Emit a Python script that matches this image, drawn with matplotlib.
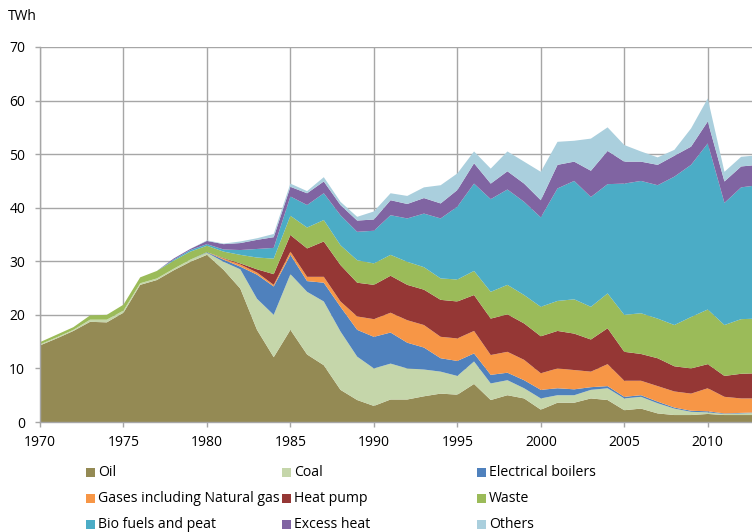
import matplotlib
matplotlib.use("Agg")
import matplotlib.pyplot as plt
from matplotlib.patches import Rectangle

years = list(range(1970, 2014))

oil = [14.3, 15.6, 17.0, 18.7, 18.6, 20.4, 25.6, 26.5, 28.3, 29.9,
       31.2, 28.4, 24.9, 17.2, 12.1, 17.2, 12.6, 10.6, 6.0, 4.1,
       3.0, 4.2, 4.2, 4.8, 5.3, 5.1, 7.1, 4.1, 5.0, 4.4,
       2.3, 3.6, 3.6, 4.4, 4.1, 2.2, 2.5, 1.6, 1.3, 1.3,
       1.5, 1.3, 1.3, 1.3]
coal = [0.2, 0.2, 0.2, 0.4, 0.5, 0.4, 0.3, 0.3, 0.3, 0.4,
        0.4, 1.5, 3.6, 5.8, 7.9, 10.4, 11.7, 11.9, 10.9, 8.1,
        7.0, 6.7, 5.8, 5.0, 4.1, 3.5, 4.2, 3.1, 2.8, 1.9,
        2.1, 1.4, 1.4, 1.6, 2.2, 2.2, 2.2, 1.9, 1.2, 0.6,
        0.3, 0.2, 0.3, 0.4]
elec = [0, 0, 0, 0, 0, 0, 0, 0, 0, 0,
        0.1, 0.4, 0.5, 4.5, 5.3, 3.6, 2.0, 3.5, 4.6, 5.0,
        5.9, 5.8, 4.8, 4.1, 2.5, 2.8, 1.5, 1.6, 1.4, 1.5,
        1.6, 1.3, 1.1, 0.5, 0.4, 0.3, 0.3, 0.3, 0.2, 0.2,
        0.2, 0.1, 0.1, 0.1]
gas = [0, 0, 0, 0, 0, 0, 0, 0, 0, 0,
       0, 0.2, 0.4, 0.4, 0.3, 0.6, 0.8, 1.1, 1.0, 2.5,
       3.3, 3.7, 4.2, 4.2, 4.0, 4.2, 4.2, 3.7, 3.9, 3.8,
       3.1, 3.7, 3.6, 2.9, 4.1, 3.0, 2.7, 2.9, 3.0, 3.2,
       4.3, 3.1, 2.7, 2.6]
heat_pump = [0, 0, 0, 0, 0, 0, 0, 0, 0, 0,
             0, 0.1, 0.2, 0.6, 2.0, 3.1, 5.3, 6.6, 6.8, 6.3,
             6.4, 6.9, 6.6, 6.6, 6.9, 6.9, 6.7, 6.8, 7.0, 6.8,
             6.9, 7.0, 6.8, 6.0, 6.7, 5.4, 5.0, 5.2, 4.7, 4.7,
             4.5, 3.9, 4.6, 4.7]
waste = [0.4, 0.5, 0.5, 0.8, 0.9, 1.1, 1.1, 1.4, 1.5, 1.5,
         1.2, 1.2, 1.6, 2.2, 2.9, 3.6, 3.9, 4.0, 3.7, 4.2,
         4.0, 3.9, 4.3, 4.2, 4.0, 4.1, 4.5, 5.0, 5.5, 5.3,
         5.5, 5.6, 6.4, 6.1, 6.5, 6.9, 7.6, 7.4, 7.7, 9.6,
         10.2, 9.5, 10.2, 10.2]
bio = [0, 0, 0, 0, 0, 0, 0, 0, 0.2, 0.3,
       0.3, 0.4, 0.9, 1.6, 2.0, 3.6, 4.2, 5.0, 5.6, 5.3,
       6.1, 7.4, 8.1, 10.0, 11.2, 13.6, 16.3, 17.3, 17.8, 17.4,
       16.7, 21.0, 22.1, 20.5, 20.4, 24.5, 24.7, 24.9, 27.7, 28.4,
       31.0, 22.8, 24.6, 24.9]
excess = [0, 0, 0, 0, 0, 0, 0, 0, 0.2, 0.2,
          0.6, 1.0, 1.3, 1.7, 2.0, 1.8, 2.2, 2.2, 1.9, 2.1,
          2.1, 2.8, 2.7, 2.9, 2.8, 3.1, 3.8, 2.9, 3.4, 3.4,
          3.2, 4.4, 3.6, 4.9, 6.2, 4.1, 3.6, 3.8, 3.9, 3.4,
          4.1, 4.0, 3.9, 3.8]
others = [0, 0, 0, 0, 0, 0, 0, 0, 0, 0,
          0.1, 0.1, 0.3, 0.3, 0.6, 0.6, 0.4, 0.8, 0.6, 0.7,
          1.5, 1.3, 1.5, 2.0, 3.4, 3.1, 2.2, 2.8, 3.7, 4.1,
          5.3, 4.3, 3.9, 6.0, 4.4, 3.1, 1.9, 1.4, 1.1, 3.4,
          4.3, 1.8, 1.8, 1.8]

labels = ["Oil", "Coal", "Electrical boilers",
          "Gases including Natural gas", "Heat pump", "Waste",
          "Bio fuels and peat", "Excess heat", "Others"]
colors = ["#948A54", "#C5D6AA", "#4F81BD",
          "#F79646", "#953735", "#9BBB59",
          "#4BACC6", "#8064A2", "#AACFDD"]
series = [oil, coal, elec, gas, heat_pump, waste, bio, excess, others]

plt.rcParams['font.family'] = ['Open Sans', 'DejaVu Sans']
FS = 10
LFS = 10.1

W, H = 752, 532
fig = plt.figure(figsize=(W / 100, H / 100), dpi=100)
ax = fig.add_axes([40 / W, 110 / H, (W - 40) / W, 375 / H])

ax.stackplot(years, *series, colors=colors, linewidth=0, zorder=2)

ax.set_xlim(1970, 2012.65)
ax.set_ylim(0, 70)
ax.set_xticks(range(1970, 2011, 5))
ax.set_yticks(range(0, 71, 10))
ax.grid(True, color="#A6A6A6", linewidth=1.0, zorder=0)
ax.set_axisbelow(True)
for s in ["top", "right"]:
    ax.spines[s].set_visible(False)
for s in ["left", "bottom"]:
    ax.spines[s].set_color("#A6A6A6")
    ax.spines[s].set_linewidth(1.0)
    ax.spines[s].set_zorder(3)
ax.tick_params(axis="both", colors="#A6A6A6", labelcolor="black",
               labelsize=FS, length=3.6, width=1.0)
ax.tick_params(axis="x", pad=6)
ax.tick_params(axis="y", pad=7)

fig.text(8 / W, 1 - 17 / H, "TWh", fontsize=FS, va="center", ha="left")

# legend laid out as in the reference (3 columns x 3 rows)
col_x = [86, 282, 477]
row_y = [472, 498, 524]
for i, (lab, col) in enumerate(zip(labels, colors)):
    r, c = divmod(i, 3)
    x0 = col_x[c]
    y0 = row_y[r]
    fig.patches.append(Rectangle((x0 / W, 1 - (y0 + 4.5) / H), 9 / W, 9 / H,
                                 transform=fig.transFigure, facecolor=col,
                                 edgecolor="none"))
    fig.text((x0 + 12) / W, 1 - y0 / H, lab, fontsize=LFS, va="center", ha="left")

fig.savefig("out.png", dpi=100)
